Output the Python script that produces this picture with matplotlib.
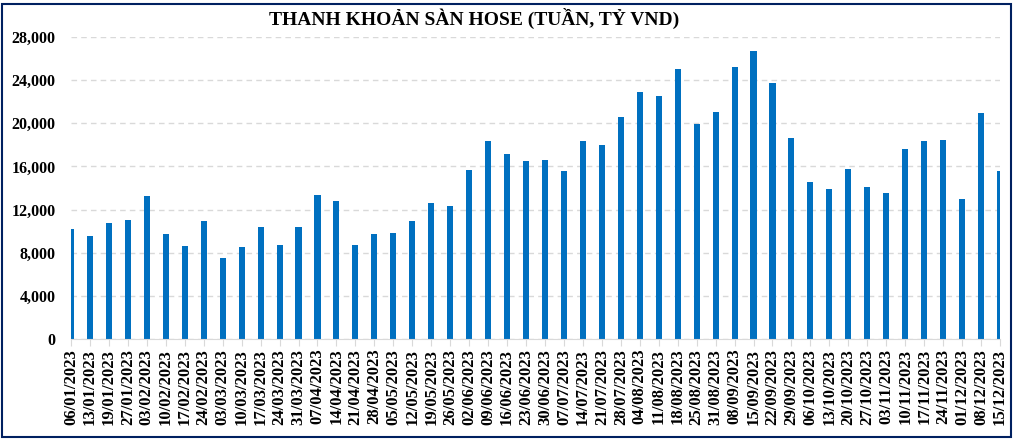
import matplotlib
matplotlib.use("Agg")
import matplotlib.pyplot as plt
from matplotlib.patches import Rectangle
from matplotlib.ticker import FuncFormatter, MultipleLocator

weeks = ["06/01/2023", "13/01/2023", "19/01/2023", "27/01/2023", "03/02/2023",
         "10/02/2023", "17/02/2023", "24/02/2023", "03/03/2023", "10/03/2023",
         "17/03/2023", "24/03/2023", "31/03/2023", "07/04/2023", "14/04/2023",
         "21/04/2023", "28/04/2023", "05/05/2023", "12/05/2023", "19/05/2023",
         "26/05/2023", "02/06/2023", "09/06/2023", "16/06/2023", "23/06/2023",
         "30/06/2023", "07/07/2023", "14/07/2023", "21/07/2023", "28/07/2023",
         "04/08/2023", "11/08/2023", "18/08/2023", "25/08/2023", "31/08/2023",
         "08/09/2023", "15/09/2023", "22/09/2023", "29/09/2023", "06/10/2023",
         "13/10/2023", "20/10/2023", "27/10/2023", "03/11/2023", "10/11/2023",
         "17/11/2023", "24/11/2023", "01/12/2023", "08/12/2023", "15/12/2023"]
liquidity = [10200, 9550, 10750, 11030, 13260, 9730, 8620, 10940, 7510, 8530,
             10380, 8720, 10380, 13350, 12800, 8740, 9770, 9860, 10970, 12650,
             12370, 15630, 18330, 17120, 16470, 16560, 15530, 18330, 17950, 20560,
             22880, 22510, 25020, 19900, 21020, 25200, 26700, 23720, 18600, 14600,
             13950, 15720, 14050, 13580, 17580, 18330, 18420, 13020, 20930, 15530]
title = "THANH KHOẢN SÀN HOSE (TUẦN, TỶ VND)"

plt.rcParams['font.family'] = ['Liberation Serif', 'DejaVu Serif']

fig = plt.figure(figsize=(10.15, 4.41), dpi=100)
ax = fig.add_axes([71/1015, 1 - 339/441, (1000-71)/1015, (339-37)/441])

x = list(range(len(weeks)))
ax.bar(x, liquidity, width=0.32, color="#0070C0", zorder=3)

ax.set_xlim(0, len(weeks) - 1)
ax.set_ylim(0, 28000)
ax.yaxis.set_major_locator(MultipleLocator(4000))
ax.yaxis.set_major_formatter(FuncFormatter(lambda v, p: f"{int(v):,}"))
ax.set_xticks(x)
ax.set_xticklabels(weeks, rotation=90, fontsize=12, fontweight="bold")
for lab in ax.get_yticklabels():
    lab.set_fontsize(11.5)
    lab.set_fontweight("bold")

ax.grid(axis="y", color="#D9D9D9", linestyle=(0, (4, 3)), linewidth=1, zorder=0)
for s in ["left", "right", "top"]:
    ax.spines[s].set_visible(False)
ax.spines["bottom"].set_color("#D9D9D9")
ax.spines["bottom"].set_zorder(4)
ax.tick_params(axis="x", length=5, color="#D9D9D9", pad=2)
ax.tick_params(axis="y", length=0, pad=11)

fig.text(474/1015, 1 - 18/441, title, ha="center", va="center",
         fontsize=14, fontweight="bold")

fig.patches.append(Rectangle((1.5/1015, 4/441), 1009/1015, 433/441,
                             transform=fig.transFigure, fill=False,
                             edgecolor="#002060", linewidth=1.5))

fig.savefig("out.png", dpi=100)
